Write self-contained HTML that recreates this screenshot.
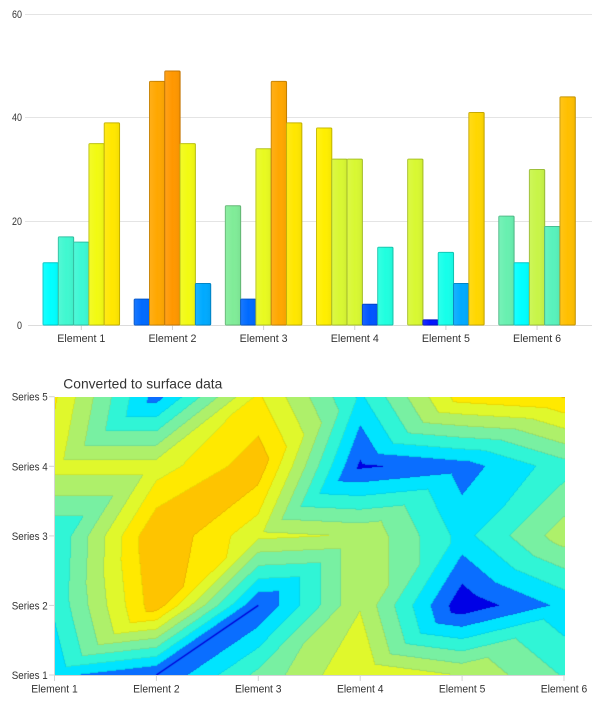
<!DOCTYPE html>
<html><head><meta charset="utf-8">
<style>
html,body{margin:0;padding:0;background:#fff;width:601px;height:701px;overflow:hidden;position:relative}
svg{position:absolute;left:0;top:0}
canvas{position:absolute;left:55px;top:397px}
text{font-family:"Liberation Sans",sans-serif;fill:#333}
</style></head><body>
<svg width="601" height="701" viewBox="0 0 601 701">
<defs>
<linearGradient id="sh" x1="0" y1="0" x2="1" y2="0">
<stop offset="0" stop-color="#fff" stop-opacity="0.10"/>
<stop offset="0.5" stop-color="#fff" stop-opacity="0"/>
<stop offset="1" stop-color="#000" stop-opacity="0.05"/>
</linearGradient>
</defs>
<!-- top chart grid -->
<g stroke="#e4e4e4" stroke-width="1">
<line x1="25" y1="14.5" x2="592" y2="14.5"/>
<line x1="25" y1="117.5" x2="592" y2="117.5"/>
<line x1="25" y1="221.5" x2="592" y2="221.5"/>
<line x1="28" y1="325.5" x2="592" y2="325.5" stroke="#dcdcdc"/>
</g>
<g stroke="#d0d0d0">
<line x1="81.3" y1="325" x2="81.3" y2="330"/>
<line x1="172.45" y1="325" x2="172.45" y2="330"/>
<line x1="263.6" y1="325" x2="263.6" y2="330"/>
<line x1="354.75" y1="325" x2="354.75" y2="330"/>
<line x1="445.9" y1="325" x2="445.9" y2="330"/>
<line x1="537.05" y1="325" x2="537.05" y2="330"/>
</g>
<g font-size="11" text-anchor="end">
<text x="22" y="17.8" textLength="10" lengthAdjust="spacingAndGlyphs">60</text>
<text x="22" y="121" textLength="10" lengthAdjust="spacingAndGlyphs">40</text>
<text x="22" y="225" textLength="10" lengthAdjust="spacingAndGlyphs">20</text>
<text x="22" y="329" textLength="5" lengthAdjust="spacingAndGlyphs">0</text>
</g>
<g font-size="11" text-anchor="middle">
<text x="81.3" y="342" textLength="48" lengthAdjust="spacingAndGlyphs">Element 1</text>
<text x="172.45" y="342" textLength="48" lengthAdjust="spacingAndGlyphs">Element 2</text>
<text x="263.6" y="342" textLength="48" lengthAdjust="spacingAndGlyphs">Element 3</text>
<text x="354.75" y="342" textLength="48" lengthAdjust="spacingAndGlyphs">Element 4</text>
<text x="445.9" y="342" textLength="48" lengthAdjust="spacingAndGlyphs">Element 5</text>
<text x="537.05" y="342" textLength="48" lengthAdjust="spacingAndGlyphs">Element 6</text>
</g>
<!-- bars -->
<g stroke-width="1">
<rect x="43.05" y="262.8" width="15.3" height="62.2" rx="1" fill="#00ffff" stroke="#00c7c7"/>
<rect x="58.35" y="236.88" width="15.3" height="88.12" rx="1" fill="#40f8d0" stroke="#32c1a2"/>
<rect x="73.65" y="242.07" width="15.3" height="82.93" rx="1" fill="#3cf8d4" stroke="#2fc1a5"/>
<rect x="88.95" y="143.58" width="15.3" height="181.42" rx="1" fill="#f2fa12" stroke="#bdc30e"/>
<rect x="104.25" y="122.85" width="15.3" height="202.15" rx="1" fill="#ffe700" stroke="#c7b400"/>

<rect x="134.2" y="299.08" width="15.3" height="25.92" rx="1" fill="#006aff" stroke="#0053c7"/>
<rect x="149.5" y="81.38" width="15.3" height="243.62" rx="1" fill="#ffa700" stroke="#c78200"/>
<rect x="164.8" y="71.02" width="15.3" height="253.98" rx="1" fill="#ff9700" stroke="#c77600"/>
<rect x="180.1" y="143.58" width="15.3" height="181.42" rx="1" fill="#f2fa12" stroke="#bdc30e"/>
<rect x="195.4" y="283.53" width="15.3" height="41.47" rx="1" fill="#00aaff" stroke="#0085c7"/>

<rect x="225.35" y="205.78" width="15.3" height="119.22" rx="1" fill="#80ec98" stroke="#64b876"/>
<rect x="240.65" y="299.08" width="15.3" height="25.92" rx="1" fill="#006aff" stroke="#0053c7"/>
<rect x="255.95" y="148.77" width="15.3" height="176.23" rx="1" fill="#e8fa20" stroke="#b5c319"/>
<rect x="271.25" y="81.38" width="15.3" height="243.62" rx="1" fill="#ffa700" stroke="#c78200"/>
<rect x="286.55" y="122.85" width="15.3" height="202.15" rx="1" fill="#ffe700" stroke="#c7b400"/>

<rect x="316.5" y="128.03" width="15.3" height="196.97" rx="1" fill="#ffef00" stroke="#c7ba00"/>
<rect x="331.8" y="159.13" width="15.3" height="165.87" rx="1" fill="#d8f832" stroke="#a8c127"/>
<rect x="347.1" y="159.13" width="15.3" height="165.87" rx="1" fill="#d8f832" stroke="#a8c127"/>
<rect x="362.4" y="304.27" width="15.3" height="20.73" rx="1" fill="#0055ff" stroke="#0042c7"/>
<rect x="377.7" y="247.25" width="15.3" height="77.75" rx="1" fill="#20ffdf" stroke="#19c7ae"/>

<rect x="407.65" y="159.13" width="15.3" height="165.87" rx="1" fill="#d8f832" stroke="#a8c127"/>
<rect x="422.95" y="319.82" width="15.3" height="5.18" rx="1" fill="#0015ff" stroke="#0010c7"/>
<rect x="438.25" y="252.43" width="15.3" height="72.57" rx="1" fill="#15ffea" stroke="#10c7b6"/>
<rect x="453.55" y="283.53" width="15.3" height="41.47" rx="1" fill="#00aaff" stroke="#0085c7"/>
<rect x="468.85" y="112.48" width="15.3" height="212.52" rx="1" fill="#ffd700" stroke="#c7a800"/>

<rect x="498.8" y="216.15" width="15.3" height="108.85" rx="1" fill="#68f0b0" stroke="#51bb89"/>
<rect x="514.1" y="262.8" width="15.3" height="62.2" rx="1" fill="#00ffff" stroke="#00c7c7"/>
<rect x="529.4" y="169.5" width="15.3" height="155.5" rx="1" fill="#c8f548" stroke="#9cbf38"/>
<rect x="544.7" y="226.52" width="15.3" height="98.48" rx="1" fill="#58f2bc" stroke="#45bd93"/>
<rect x="560.0" y="96.93" width="15.3" height="228.07" rx="1" fill="#ffbf00" stroke="#c79500"/>
</g>
<g fill="url(#sh)">
<rect x="43.05" y="262.8" width="15.3" height="62.2"/>
<rect x="58.35" y="236.88" width="15.3" height="88.12"/>
<rect x="73.65" y="242.07" width="15.3" height="82.93"/>
<rect x="88.95" y="143.58" width="15.3" height="181.42"/>
<rect x="104.25" y="122.85" width="15.3" height="202.15"/>
<rect x="134.2" y="299.08" width="15.3" height="25.92"/>
<rect x="149.5" y="81.38" width="15.3" height="243.62"/>
<rect x="164.8" y="71.02" width="15.3" height="253.98"/>
<rect x="180.1" y="143.58" width="15.3" height="181.42"/>
<rect x="195.4" y="283.53" width="15.3" height="41.47"/>
<rect x="225.35" y="205.78" width="15.3" height="119.22"/>
<rect x="240.65" y="299.08" width="15.3" height="25.92"/>
<rect x="255.95" y="148.77" width="15.3" height="176.23"/>
<rect x="271.25" y="81.38" width="15.3" height="243.62"/>
<rect x="286.55" y="122.85" width="15.3" height="202.15"/>
<rect x="316.5" y="128.03" width="15.3" height="196.97"/>
<rect x="331.8" y="159.13" width="15.3" height="165.87"/>
<rect x="347.1" y="159.13" width="15.3" height="165.87"/>
<rect x="362.4" y="304.27" width="15.3" height="20.73"/>
<rect x="377.7" y="247.25" width="15.3" height="77.75"/>
<rect x="407.65" y="159.13" width="15.3" height="165.87"/>
<rect x="422.95" y="319.82" width="15.3" height="5.18"/>
<rect x="438.25" y="252.43" width="15.3" height="72.57"/>
<rect x="453.55" y="283.53" width="15.3" height="41.47"/>
<rect x="468.85" y="112.48" width="15.3" height="212.52"/>
<rect x="498.8" y="216.15" width="15.3" height="108.85"/>
<rect x="514.1" y="262.8" width="15.3" height="62.2"/>
<rect x="529.4" y="169.5" width="15.3" height="155.5"/>
<rect x="544.7" y="226.52" width="15.3" height="98.48"/>
<rect x="560.0" y="96.93" width="15.3" height="228.07"/>
</g>

<!-- bottom chart -->
<text x="63.3" y="388.5" font-size="14" textLength="159" lengthAdjust="spacingAndGlyphs">Converted to surface data</text>
<g stroke="#d4d4d4" stroke-width="1">
<line x1="54.5" y1="396.5" x2="54.5" y2="676"/>
<line x1="54" y1="675.5" x2="565" y2="675.5"/>
<line x1="49" y1="396.7" x2="54" y2="396.7"/>
<line x1="49" y1="466.3" x2="54" y2="466.3"/>
<line x1="49" y1="535.9" x2="54" y2="535.9"/>
<line x1="49" y1="605.4" x2="54" y2="605.4"/>
<line x1="49" y1="675" x2="54" y2="675"/>
<line x1="54.5" y1="676" x2="54.5" y2="681"/>
<line x1="156.4" y1="676" x2="156.4" y2="681"/>
<line x1="258.3" y1="676" x2="258.3" y2="681"/>
<line x1="360.2" y1="676" x2="360.2" y2="681"/>
<line x1="462.1" y1="676" x2="462.1" y2="681"/>
<line x1="564" y1="676" x2="564" y2="681"/>
</g>
<g font-size="11" text-anchor="end">
<text x="47.7" y="400.7" textLength="36" lengthAdjust="spacingAndGlyphs">Series 5</text>
<text x="47.7" y="470.3" textLength="36" lengthAdjust="spacingAndGlyphs">Series 4</text>
<text x="47.7" y="539.9" textLength="36" lengthAdjust="spacingAndGlyphs">Series 3</text>
<text x="47.7" y="609.4" textLength="36" lengthAdjust="spacingAndGlyphs">Series 2</text>
<text x="47.7" y="679" textLength="36" lengthAdjust="spacingAndGlyphs">Series 1</text>
</g>
<g font-size="11" text-anchor="middle">
<text x="54.5" y="692.3" textLength="46.5" lengthAdjust="spacingAndGlyphs">Element 1</text>
<text x="156.4" y="692.3" textLength="46.5" lengthAdjust="spacingAndGlyphs">Element 2</text>
<text x="258.3" y="692.3" textLength="46.5" lengthAdjust="spacingAndGlyphs">Element 3</text>
<text x="360.2" y="692.3" textLength="46.5" lengthAdjust="spacingAndGlyphs">Element 4</text>
<text x="462.1" y="692.3" textLength="46.5" lengthAdjust="spacingAndGlyphs">Element 5</text>
<text x="564" y="692.3" textLength="46.5" lengthAdjust="spacingAndGlyphs">Element 6</text>
</g>
</svg>
<canvas id="c" width="510" height="278"></canvas>
<script>
(function(){
var Z=[[12,5,23,38,32,21],[17,47,5,32,1,12],[16,49,34,32,14,30],[35,35,47,4,8,19],[39,8,39,15,41,44]];
var L=[5,10.5,16,21.5,27,32.5,38,43.5];
var C=[[0,0,230],[10,110,255],[0,228,255],[48,245,214],[120,240,162],[174,240,106],[224,248,44],[255,233,0],[254,196,0]];
var X0=54.5,DX=101.9,Y1=675,DY=69.6,OX=55,OY=397;
var cv=document.getElementById('c'),ctx=cv.getContext('2d');
var W=cv.width,H=cv.height;
var img=ctx.createImageData(W,H),d=img.data;
var B=new Int8Array(W*H);
for(var j=0;j<H;j++){for(var i=0;i<W;i++){
var px=OX+i+0.5,py=OY+j+0.5;
var u=(px-X0)/DX,w=(Y1-py)/DY;
if(u<0)u=0;if(u>5)u=5;if(w<0)w=0;if(w>4)w=4;
var e=Math.min(Math.floor(u),4),s=Math.min(Math.floor(w),3);
var fu=u-e,fw=w-s;
var zA=Z[s][e],zB=Z[s][e+1],zC=Z[s+1][e+1],zD=Z[s+1][e];
var v=(fu>=fw)?(zA+(zB-zA)*fu+(zC-zB)*fw):(zA+(zD-zA)*fw+(zC-zD)*fu);
var b=0;for(var k=0;k<L.length;k++){if(v>=L[k])b=k+1;}
B[j*W+i]=b;}}
for(var j=0;j<H;j++){for(var i=0;i<W;i++){
var b=B[j*W+i],c=C[b],f=1;
if((i+1<W&&B[j*W+i+1]!=b)||(j+1<H&&B[(j+1)*W+i]!=b))f=0.93;
var o=(j*W+i)*4;d[o]=c[0]*f;d[o+1]=c[1]*f;d[o+2]=c[2]*f;d[o+3]=255;}}
ctx.putImageData(img,0,0);
ctx.strokeStyle='#0000d8';ctx.lineWidth=1.3;
ctx.beginPath();ctx.moveTo(156.4-OX,675-OY);ctx.lineTo(258.3-OX,605.4-OY);ctx.stroke();
})();
</script>
</body></html>
